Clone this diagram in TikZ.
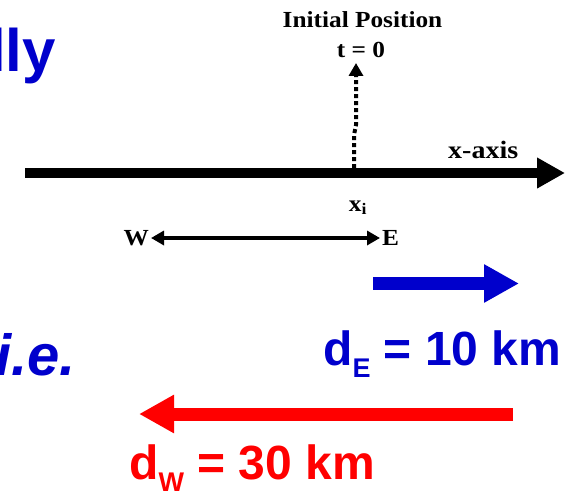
\documentclass[tikz,border=0pt]{standalone}
\usepackage{fontspec}
\setmainfont{Liberation Serif}
\setsansfont{Liberation Sans}
\usetikzlibrary{arrows.meta}
\definecolor{slideblue}{RGB}{0,0,204}
\definecolor{slidered}{RGB}{255,0,0}
\newcommand{\stretchtext}[1]{\scalebox{1.1}[1]{#1}}

\begin{document}
\begin{tikzpicture}[x=1pt,y=-1pt]
    \tikzstyle{axislabel}=[font=\bfseries\fontsize{23}{23}\selectfont,inner sep=2pt]
    \tikzstyle{slidetext}=[font=\sffamily\bfseries\fontsize{60}{60}\selectfont,text=slideblue,anchor=base west,inner sep=0pt]
    \tikzstyle{distlabel}=[font=\sffamily\bfseries\fontsize{48}{48}\selectfont,anchor=base west,inner sep=0pt]
    \tikzstyle{fatarrow}=[line width=13pt,-{Triangle[length=35pt,width=36pt]}]
    \useasboundingbox (0,0) rectangle (577,492);
    \clip (0,0) rectangle (577,492);
    % Slide text
    \node[slidetext] (lly) at (-11,72) {lly};
    \node[slidetext,font=\sffamily\bfseries\itshape\fontsize{58}{58}\selectfont] (ie) at (-5,375) {i.e.};
    % Axis
    \coordinate (axisstart) at (25,173); \coordinate (axisend) at (565,173);
    \draw[line width=10pt,-{Triangle[length=28pt,width=29pt]}] (axisstart) -- (axisend);
    \node[font=\bfseries\fontsize{25}{25}\selectfont,anchor=base west,inner sep=0pt] (xlabel)
        at (448,158) {\scalebox{1.12}[1]{x-axis}};
    % Initial position
    \node[axislabel,anchor=base] (init) at (362.5,28) {\stretchtext{Initial Position}};
    \node[axislabel,anchor=base] (tzero) at (361,58) {\stretchtext{t = 0}};
    \coordinate (xpos) at (354,168); \coordinate (xtop) at (356,63);
    \draw[line width=4pt,dash pattern=on 4pt off 3pt,-{Triangle[length=13pt,width=14pt]}]
        (xpos) -- (354,135) -- (356,125) -- (xtop);
    \node[axislabel,anchor=base] (xi) at (358,211) {\stretchtext{x\textsubscript{i}}};
    % Directions
    \node[axislabel,anchor=east] (W) at (151,238) {\stretchtext{W}};
    \node[axislabel,anchor=west] (E) at (380,238) {\stretchtext{E}};
    \draw[line width=3.5pt,{Triangle[length=13pt,width=14pt]}-{Triangle[length=13pt,width=14pt]}]
        (W.east) -- (E.west);
    % Displacements
    \coordinate (estart) at (373,283.5); \coordinate (eend) at (519,283.5);
    \draw[fatarrow,slideblue] (estart) -- (eend);
    \node[distlabel,text=slideblue] (dE) at (323,365)
        {d\raisebox{-12pt}{\fontsize{27}{27}\selectfont E} = 10 km};
    \coordinate (wstart) at (513,414); \coordinate (wend) at (139,414);
    \draw[fatarrow,slidered] (wstart) -- (wend);
    \node[distlabel,text=slidered] (dW) at (129,479)
        {d\raisebox{-12pt}{\fontsize{27}{27}\selectfont W} = 30 km};
\end{tikzpicture}
\end{document}
